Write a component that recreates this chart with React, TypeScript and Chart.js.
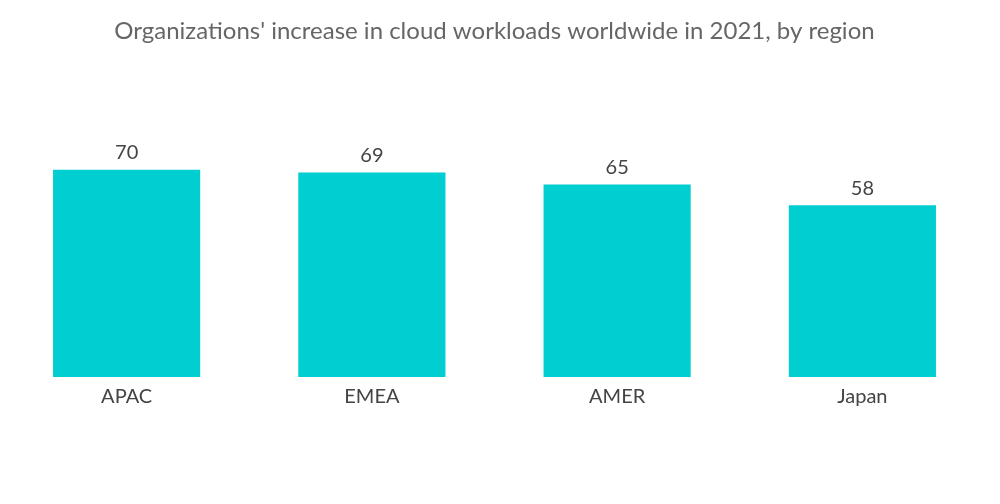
import React, { useRef, useEffect } from 'react';
import { Chart, registerables } from 'chart.js';
import type { Plugin } from 'chart.js';

Chart.register(...registerables);

const regions = ['APAC', 'EMEA', 'AMER', 'Japan'];
const increaseShare = [70, 69, 65, 58];
const chartTitle = "Organizations' increase in cloud workloads worldwide in 2021, by region";

// draws the value above each bar
const valueLabels: Plugin<'bar'> = {
  id: 'valueLabels',
  afterDatasetsDraw(chart) {
    const ctx = chart.ctx;
    const meta = chart.getDatasetMeta(0);
    ctx.save();
    ctx.font = '20px Lato, "Open Sans", sans-serif';
    ctx.fillStyle = '#444444';
    ctx.textAlign = 'center';
    ctx.textBaseline = 'bottom';
    meta.data.forEach((bar, i) => {
      ctx.fillText(String(increaseShare[i]), bar.x, bar.y - 7);
    });
    ctx.restore();
  },
};

const App: React.FC = () => {
  const chartRef = useRef<HTMLCanvasElement>(null);
  const chartInstance = useRef<Chart | null>(null);

  useEffect(() => {
    if (!chartRef.current) return;
    if (chartInstance.current) chartInstance.current.destroy();

    chartInstance.current = new Chart(chartRef.current, {
      type: 'bar',
      data: {
        labels: regions,
        datasets: [
          {
            data: increaseShare,
            backgroundColor: '#00CED1',
            barPercentage: 0.6,
            categoryPercentage: 1,
          },
        ],
      },
      options: {
        animation: false,
        responsive: true,
        maintainAspectRatio: false,
        layout: { padding: { left: 4, right: 15, top: 0, bottom: 95 } },
        plugins: {
          legend: { display: false },
          tooltip: { enabled: false },
          title: {
            display: true,
            text: chartTitle,
            color: '#666666',
            font: { family: 'Lato, "Open Sans", sans-serif', size: 24, weight: 'normal' },
            padding: { top: 17, bottom: 35 },
          },
        },
        scales: {
          x: {
            grid: { display: false },
            border: { display: false },
            ticks: {
              color: '#444444',
              font: { family: 'Lato, "Open Sans", sans-serif', size: 20 },
              padding: 0,
            },
          },
          y: {
            display: false,
            min: 0,
            max: 100,
          },
        },
      },
      plugins: [valueLabels],
    });

    return () => {
      if (chartInstance.current) {
        chartInstance.current.destroy();
        chartInstance.current = null;
      }
    };
  }, []);

  return (
    <div style={{ position: 'fixed', left: 0, top: 0, width: 1000, height: 504, background: '#fff' }}>
      <canvas ref={chartRef} />
    </div>
  );
};

export default App;
